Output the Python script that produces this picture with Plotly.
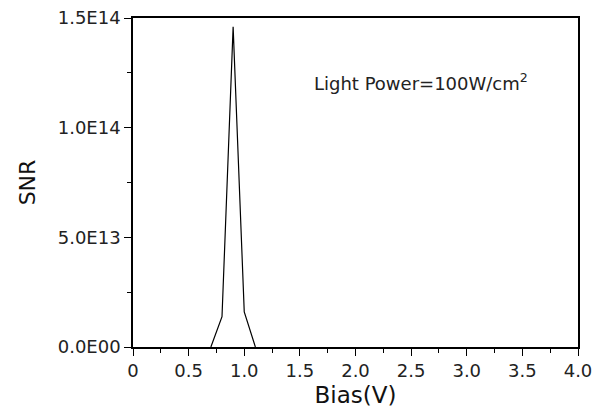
import plotly.graph_objects as go

bias = [0.7, 0.8, 0.9, 1.0, 1.1]
snr = [0.0, 1.38e13, 1.46e14, 1.6e13, 0.0]

x_tickvals = [0, 0.5, 1.0, 1.5, 2.0, 2.5, 3.0, 3.5, 4.0]
x_ticktext = ["0", "0.5", "1.0", "1.5", "2.0", "2.5", "3.0", "3.5", "4.0"]
y_tickvals = [0, 5e13, 1e14, 1.5e14]
y_ticktext = ["0.0E00", "5.0E13", "1.0E14", "1.5E14"]

font = "DejaVu Sans, Arial, sans-serif"

fig = go.Figure()
fig.add_trace(go.Scatter(x=bias, y=snr, mode="lines",
                         line=dict(color="black", width=1.2), showlegend=False))

axis_common = dict(showline=True, linecolor="black", linewidth=1.5, mirror=True,
                   showgrid=False, zeroline=False, ticks="outside", ticklen=7,
                   tickcolor="black", tickwidth=1.2, automargin=False,
                   ticklabeloverflow="allow",
                   tickfont=dict(family=font, size=18, color="#222"))

fig.update_xaxes(range=[0, 4], tickvals=x_tickvals, ticktext=x_ticktext,
                 minor=dict(dtick=0.25, tick0=0, ticks="outside", ticklen=4, tickcolor="black"),
                 title=dict(text="Bias(V)", font=dict(family=font, size=23, color="#111"), standoff=7),
                 **axis_common)
fig.update_yaxes(range=[0, 1.5e14], tickvals=y_tickvals, ticktext=y_ticktext,
                 minor=dict(dtick=2.5e13, tick0=0, ticks="outside", ticklen=4, tickcolor="black"),
                 title=dict(text="SNR", font=dict(family=font, size=22, color="#111"), standoff=16),
                 **axis_common)

fig.add_annotation(xref="paper", yref="paper", xanchor="left", yanchor="middle",
                   x=(312 - 133) / 445, y=(347 - 82) / 329,
                   text="Light Power=100W/cm<sup>2</sup>", showarrow=False,
                   font=dict(family=font, size=18, color="#222"))

fig.update_layout(width=595, height=402, margin=dict(l=125, r=25, t=10, b=63),
                  plot_bgcolor="white", paper_bgcolor="white")

fig.write_html("out.html")
